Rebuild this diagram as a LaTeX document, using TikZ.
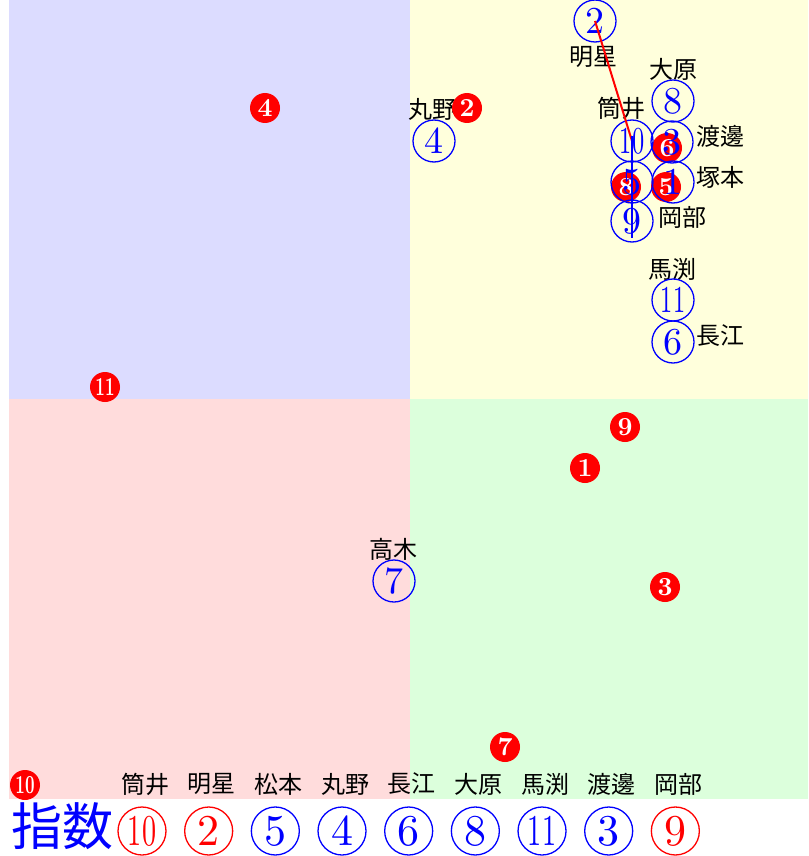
\documentclass[tikz,border=0pt]{standalone}
\usepackage{fontspec}
\usepackage{graphicx}
\usepackage{xcolor}
\usepackage{tikz}
\usetikzlibrary{positioning}
\newfontfamily\cjk{Noto Sans CJK JP}
\newfontfamily\digits{lmroman10-regular.otf}
\newfontfamily\bolddigits{lmroman10-bold.otf}
\definecolor{lavender}{RGB}{220, 220, 255}
\definecolor{paleyellow}{RGB}{255, 255, 220}
\definecolor{palepink}{RGB}{255, 220, 220}
\definecolor{palegreen}{RGB}{220, 255, 220}
\newcommand{\narrow}[1]{\scalebox{0.64}[1]{#1}}

\begin{document}
\begin{tikzpicture}[
    x=1pt, y=-1pt,
    ring/.style={circle, draw=blue, text=blue, line width=1.3pt, minimum size=42pt, inner sep=0pt, font=\digits\fontsize{38}{38}\selectfont},
    dot/.style={circle, fill=red, text=white, minimum size=30pt, inner sep=0pt, font=\bolddigits\fontsize{26}{26}\selectfont},
    lab/.style={inner sep=0pt, font=\cjk\fontsize{24}{24}\selectfont},
    key/.style={ring, minimum size=48pt, font=\digits\fontsize{44}{44}\selectfont},
    link/.style={line width=1.5pt}
]

\useasboundingbox (0,0) rectangle (808,856);
\fill[lavender] (9,0) rectangle (410,399);
\fill[paleyellow] (410,0) rectangle (808,399);
\fill[palepink] (9,399) rectangle (410,799);
\fill[palegreen] (410,399) rectangle (808,799);

\node[lab] (myojo) at (593,57) {明星};
\node[lab] (ohara) at (673,69) {大原};
\node[lab] (tsutsui) at (621,108) {筒井};
\node[lab] (watanabe) at (720,136) {渡邊};
\node[lab] (tsukamoto) at (720,177) {塚本};
\node[lab] (okabe) at (682,217) {岡部};
\node[lab] (mabuchi) at (672,269) {馬渕};
\node[lab] (nagae) at (720,336) {長江};
\node[lab] (maruno) at (432,109) {丸野};
\node[lab] (takagi) at (393,549) {高木};

\node[dot] (d1) at (585,468) {1};
\node[dot] (d2) at (467,108) {2};
\node[dot] (d3) at (665,587) {3};
\node[dot] (d4) at (265,108) {4};
\node[dot] (d5) at (666,187) {5};
\node[dot] (d6) at (667,148) {6};
\node[dot] (d7) at (505,747) {7};
\node[dot] (d8) at (626,187) {8};
\node[dot] (d9) at (625,427) {9};
\node[dot] (d10) at (25,785) {\narrow{10}};
\node[dot] (d11) at (105,387) {\narrow{11}};

\node[ring] (t2) at (595,21) {2};
\node[ring] (t8) at (673,101) {8};
\node[ring] (t10) at (632,141) {\narrow{10}};
\node[ring] (t3) at (672,142) {3};
\node[ring] (t5) at (632,182) {5};
\node[ring] (t1) at (673,182) {1};
\node[ring] (t9) at (632,221) {9};
\node[ring] (t11) at (673,300) {\narrow{11}};
\node[ring] (t6) at (673,342) {6};
\node[ring] (t4) at (434,141) {4};
\node[ring] (t7) at (394,581) {7};

\draw[red, link, line width=2pt] (t2.center) -- (t10.center);
\draw[blue, link] ([yshift=5pt]t10.center) -- ([yshift=-17pt]t9.center);

\node[inner sep=0pt, text=blue, font=\cjk\fontsize{51}{51}\selectfont] (index) at (62,826) {指数};
\foreach \name/\num/\col [count=\i from 0] in {筒井/\narrow{10}/red, 明星/2/red, 松本/5/blue, 丸野/4/blue, 長江/6/blue, 大原/8/blue, 馬渕/\narrow{11}/blue, 渡邊/3/blue, 岡部/9/red} {
    \node[lab] (name\i) at (145+66.67*\i,784) {\name};
    \node[key, draw=\col, text=\col] (key\i) at (142+66.67*\i,831) {\num};
}

\end{tikzpicture}
\end{document}
